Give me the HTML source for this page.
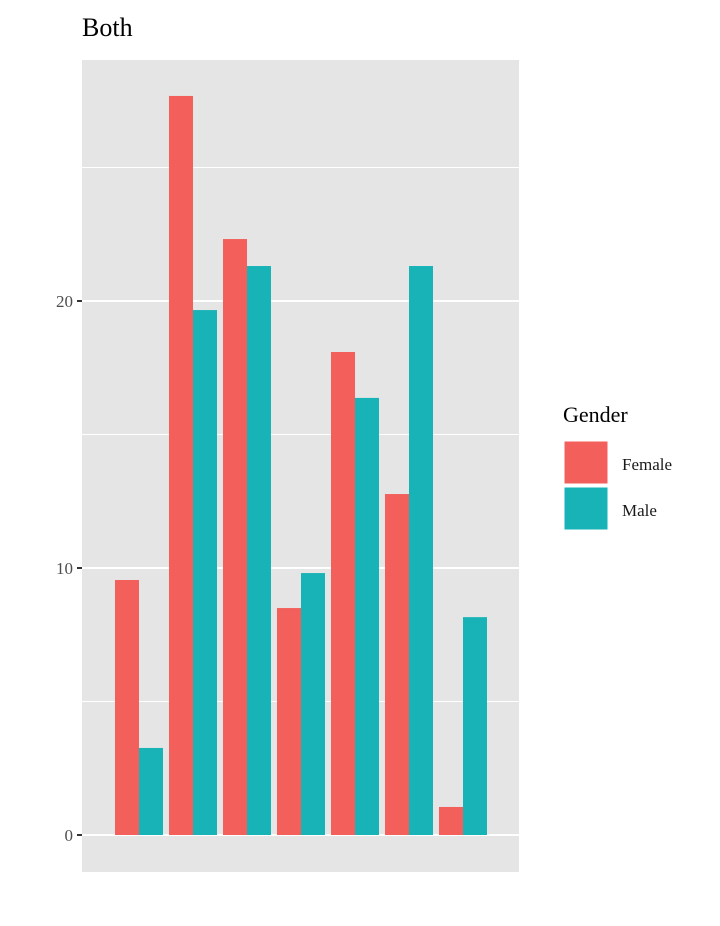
<!DOCTYPE html>
<html><head><meta charset="utf-8"><style>
body{margin:0;background:#fff;}
svg text{font-family:"Liberation Serif",serif;}
</style></head><body>
<svg id="chart" width="720" height="921" xmlns="http://www.w3.org/2000/svg">
<text x="82" y="36" font-size="26" fill="#000">Both</text>
<rect x="82" y="60" width="437" height="812" fill="#e5e5e5"/>
<g id="grid"></g>
<g id="bars"></g>
<g id="yaxis"></g>
<g>
<text x="563" y="422" font-size="22" fill="#000">Gender</text>
<rect x="564" y="441" width="44" height="43" fill="#f35f5b" stroke="#fff"/>
<text x="622" y="470" font-size="17" fill="#1a1a1a">Female</text>
<rect x="564" y="487" width="44" height="43" fill="#17b3b7" stroke="#fff"/>
<text x="622" y="516" font-size="17" fill="#1a1a1a">Male</text>
</g>
</svg>
<script>
const categories=["1","2","3","4","5","6","7"];
const female=[9.55,27.68,22.32,8.5,18.09,12.77,1.05];
const male=[3.26,19.66,21.31,9.81,16.37,21.31,8.16];
const majorTicks=[0,10,20];
const minorTicks=[5,15,25];
const ns="http://www.w3.org/2000/svg";
const y=v=>835-v*26.7;
const x=i=>115+i*54;
function mk(t,a,p){const e=document.createElementNS(ns,t);for(const k in a)e.setAttribute(k,a[k]);p.appendChild(e);return e;}
const grid=document.getElementById('grid'),bars=document.getElementById('bars'),ya=document.getElementById('yaxis');
minorTicks.forEach(v=>{const l=mk('line',{x1:82,x2:519,y1:y(v),y2:y(v),stroke:'#fff','stroke-width':1},grid);

});
majorTicks.forEach(v=>{const l=mk('line',{x1:82,x2:519,y1:y(v),y2:y(v),stroke:'#fff','stroke-width':2},grid);


const t=mk('line',{x1:77,x2:82,y1:y(v),y2:y(v),stroke:'#333','stroke-width':2},ya);


const tx=mk('text',{x:73,y:y(v)+6,'text-anchor':'end','font-size':17,fill:'#4d4d4d'},ya);tx.textContent=v;

});
categories.forEach((c,i)=>{
const f=mk('rect',{x:x(i),y:y(female[i]),width:24,height:y(0)-y(female[i]),fill:'#f35f5b'},bars);


const m=mk('rect',{x:x(i)+24,y:y(male[i]),width:24,height:y(0)-y(male[i]),fill:'#17b3b7'},bars);

});
</script>
</body></html>
